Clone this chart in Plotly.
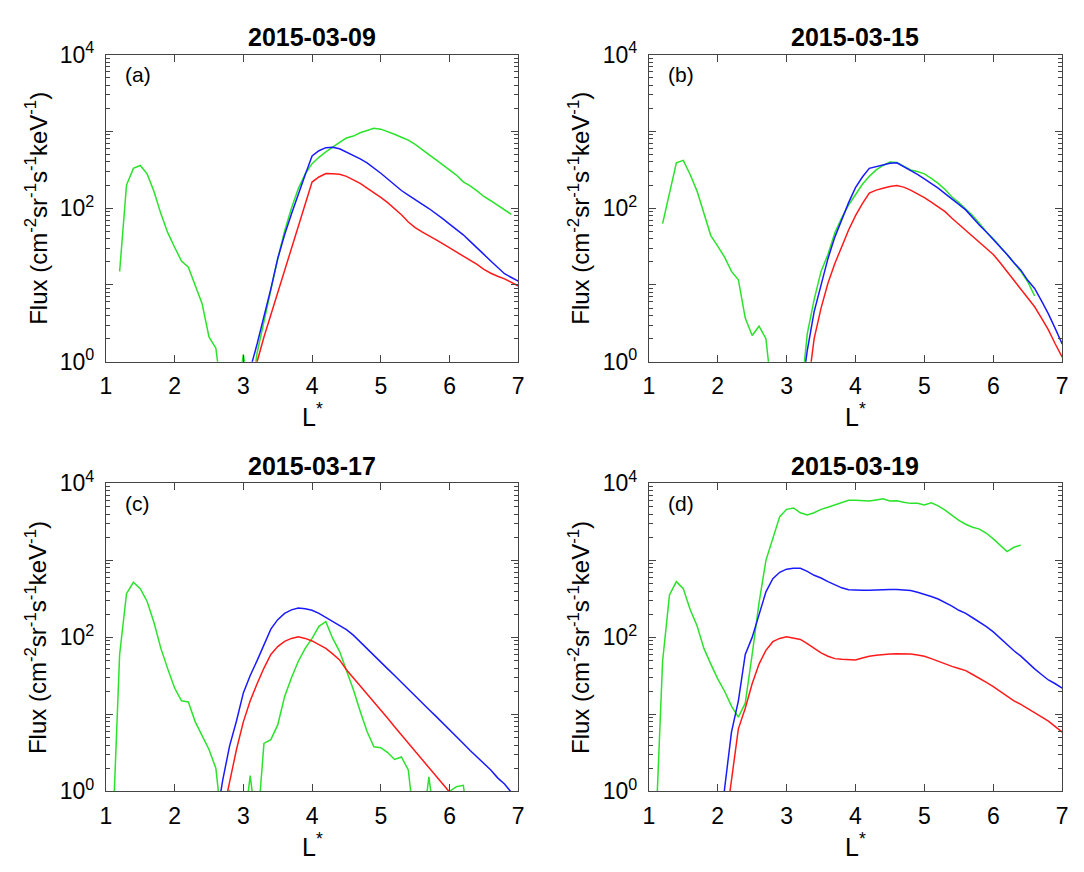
import plotly.graph_objects as go

# ---------------- data ----------------
# Panel (a) 2015-03-09
a_green_L = [1.2,1.3,1.4,1.5,1.6,1.7,1.8,1.9,2.0,2.1,2.2,2.3,2.4,2.5,2.6,2.7,2.8,2.9,3.0,3.1,
             3.2,3.3,3.4,3.5,3.6,3.7,3.8,3.9,4.0,4.1,4.2,4.3,4.4,4.5,4.6,4.7,4.8,4.9,5.0,5.1,
             5.2,5.3,5.4,5.5,5.6,5.7,5.8,5.9,6.0,6.1,6.2,6.3,6.4,6.5,6.6,6.7,6.8,6.9]
a_green = [15,200,330,360,280,165,85,48,31,20.5,17,10,5.7,2.1,1.5,0.3,0.3,0.3,1.25,0.3,
           1.3,3.3,8.5,22,50,100,180,280,380,460,540,630,720,820,870,960,1030,1100,1070,1000,
           920,840,770,680,590,500,430,370,320,270,220,195,168,142,125,110,96,83]
a_blue_L = [3.0,3.1,3.2,3.3,3.4,3.5,3.6,3.7,3.8,3.9,4.0,4.1,4.2,4.3,4.4,4.5,4.6,4.7,4.8,4.9,
            5.0,5.1,5.2,5.3,5.4,5.5,5.6,5.7,5.8,5.9,6.0,6.1,6.2,6.3,6.4,6.5,6.6,6.7,6.8,6.9,7.0]
a_blue = [0.3,0.8,1.7,3.8,8.9,22,45,84,155,272,480,560,615,620,595,540,490,440,390,335,
          285,240,200,170,148,128,113,99,86,73,62,53,45,37,30,25,20.5,17,14,12.5,11.2]
a_red_L = [3.1,3.2,3.3,3.4,3.5,3.6,3.7,3.8,3.9,4.0,4.1,4.2,4.3,4.4,4.5,4.6,4.7,4.8,4.9,5.0,
           5.1,5.2,5.3,5.4,5.5,5.6,5.7,5.8,5.9,6.0,6.1,6.2,6.3,6.4,6.5,6.6,6.7,6.8,6.9,7.0]
a_red = [0.4,1.0,2.1,4.1,8,15.5,30,60,115,219,255,282,280,276,260,235,210,183,160,138,
         118,98,82,66,56,49,44,39,34.5,30.5,27,24,21,18.5,16,14.2,13,12,10.8,9.7]

# Panel (b) 2015-03-15
b_green_L = [1.2,1.4,1.5,1.6,1.7,1.8,1.9,2.0,2.1,2.2,2.3,2.4,2.5,2.6,2.7,2.8,3.2,3.3,3.4,3.5,
             3.6,3.7,3.8,3.9,4.0,4.1,4.2,4.3,4.4,4.5,4.6,4.7,4.8,4.9,5.0,5.1,5.2,5.3,5.4,5.5,
             5.6,5.7,5.8,5.9,6.0,6.1,6.2,6.3,6.4,6.5,6.6]
b_green = [63,390,420,275,167,85,44,32,23,15,11.7,3.7,2.2,2.9,2.0,0.3,0.3,2.3,6.5,15,
           25,48,75,110,150,205,260,315,360,400,395,350,315,300,280,245,210,175,140,118,
           97,80,63,49,40,32,25,19.5,15,11,7.2]
b_blue_L = [3.2,3.3,3.4,3.5,3.6,3.7,3.8,3.9,4.0,4.1,4.2,4.3,4.4,4.5,4.6,4.7,4.8,4.9,5.0,5.1,
            5.2,5.3,5.4,5.5,5.6,5.7,5.8,5.9,6.0,6.1,6.2,6.3,6.4,6.5,6.6,6.7,6.8,6.9,7.0]
b_blue = [0.3,1.4,4.5,10,22,42,72,118,185,255,330,350,365,385,390,350,310,275,240,210,
          182,155,133,112,95,75,60,49,39.5,31.5,25,19.5,15.6,11.5,9,6.2,4.2,2.7,1.7]
b_red_L = [3.3,3.4,3.5,3.6,3.7,3.8,3.9,4.0,4.1,4.2,4.3,4.4,4.5,4.6,4.7,4.8,4.9,5.0,5.1,5.2,
           5.3,5.4,5.5,5.6,5.7,5.8,5.9,6.0,6.1,6.2,6.3,6.4,6.5,6.6,6.7,6.8,6.9,7.0]
b_red = [0.4,2.0,5,10.5,19,32,52,80,115,157,172,182,192,197,188,172,155,137,120,105,
         90,74,62,52,43.5,36,30,25,19.5,15,11.5,9,7,5.2,3.7,2.6,1.7,1.15]

# Panel (c) 2015-03-17
c_green_L = [1.1,1.2,1.3,1.4,1.5,1.6,1.7,1.8,1.9,2.0,2.1,2.2,2.3,2.4,2.5,2.6,2.7,2.8,2.9,3.0,
             3.1,3.2,3.3,3.4,3.5,3.6,3.7,3.8,3.9,4.0,4.1,4.2,4.3,4.4,4.5,4.6,4.7,4.8,4.9,5.0,
             5.1,5.2,5.3,5.4,5.5,5.6,5.7,5.8,5.9,6.0,6.1,6.2,6.3]
c_green = [0.3,60,370,520,430,293,156,72,39,22,15,14.5,8,5.4,3.5,2.0,0.3,1.05,0.3,0.3,
           1.6,0.3,4.2,4.7,7.3,17,30,49,72,97,139,160,97,66,37,21,11,6,3.8,3.7,
           3.2,2.6,2.8,1.9,0.3,0.3,1.55,0.3,0.3,1.0,1.15,1.2,0.3]
c_blue_L = [2.6,2.7,2.8,2.9,3.0,3.1,3.2,3.3,3.4,3.5,3.6,3.7,3.8,3.9,4.0,4.1,4.2,4.3,4.4,4.5,
            4.6,4.7,4.8,4.9,5.0,5.1,5.2,5.3,5.4,5.5,5.6,5.7,5.8,5.9,6.0,6.1,6.2,6.3,6.4,6.5,
            6.6,6.7,6.8,6.9]
c_blue = [0.4,1.4,3.9,8.2,19,32,50,80,128,170,205,228,240,235,225,205,182,163,145,126,
          107,88,72,59,48,39,32,26,21,17.4,14.2,11.6,9.5,7.8,6.3,5.2,4.2,3.4,2.8,2.3,
          1.9,1.5,1.25,0.97]
c_red_L = [2.7,2.8,2.9,3.0,3.1,3.2,3.3,3.4,3.5,3.6,3.7,3.8,3.9,4.0,4.1,4.2,4.3,4.4,4.5,4.6,
           4.7,4.8,4.9,5.0,5.1,5.2,5.3,5.4,5.5,5.6,5.7,5.8,5.9,6.0]
c_red = [0.5,1.3,3.5,8,15,25,40,60,76,89,97,102,97,90,81,72,61,51,38,30,
         23.5,18.5,14.5,11.3,8.9,6.9,5.4,4.2,3.3,2.6,2.0,1.6,1.25,0.98]

# Panel (d) 2015-03-19
d_green_L = [1.1,1.2,1.3,1.4,1.5,1.6,1.7,1.8,1.9,2.0,2.1,2.2,2.3,2.4,2.5,2.6,2.7,2.8,2.9,3.0,
             3.1,3.2,3.3,3.4,3.5,3.6,3.7,3.8,3.9,4.0,4.1,4.2,4.3,4.4,4.5,4.6,4.7,4.8,4.9,5.0,
             5.1,5.2,5.3,5.4,5.5,5.6,5.7,5.8,5.9,6.0,6.1,6.2,6.3,6.4]
d_green = [0.3,49,355,530,430,230,142,72,45,29,20,12.8,9.2,14,60,280,1000,2000,3700,4600,
           4800,4150,3900,4150,4600,4900,5250,5700,6050,6050,6000,5900,6100,6300,5900,5950,5700,5500,5500,5250,
           5600,5100,4500,3900,3300,2950,2700,2550,2250,1900,1580,1300,1480,1580]
d_blue_L = [2.0,2.1,2.2,2.3,2.4,2.5,2.6,2.7,2.8,2.9,3.0,3.1,3.2,3.3,3.4,3.5,3.6,3.7,3.8,3.9,
            4.0,4.1,4.2,4.3,4.4,4.5,4.6,4.7,4.8,4.9,5.0,5.1,5.2,5.3,5.4,5.5,5.6,5.7,5.8,5.9,
            6.0,6.1,6.2,6.3,6.4,6.5,6.6,6.7,6.8,6.9,7.0]
d_blue = [0.2,1.0,5.9,15,60,100,200,390,580,700,770,790,790,720,640,590,530,480,440,415,
          410,410,410,415,420,420,420,415,405,385,365,340,315,285,255,225,205,180,158,138,
          118,98,80,67,57,47,39,33,28,25,22]
d_red_L = [2.1,2.2,2.3,2.4,2.5,2.6,2.7,2.8,2.9,3.0,3.1,3.2,3.3,3.4,3.5,3.6,3.7,3.8,3.9,4.0,
           4.1,4.2,4.3,4.4,4.5,4.6,4.7,4.8,4.9,5.0,5.1,5.2,5.3,5.4,5.5,5.6,5.7,5.8,5.9,6.0,
           6.1,6.2,6.3,6.4,6.5,6.6,6.7,6.8,6.9,7.0]
d_red = [0.3,1.3,6.5,12,25,45,68,88,97,102,99,94,83,72,63,57,53,52,51,51,
         54,57,58.5,60,61,61.5,61.5,61,59,57,53,49,45,42,39.5,37,33,29,26,23,
         20,17,15,13.5,12,10.5,9.3,8.2,7,5.9]

panel_titles = ["2015-03-09", "2015-03-15", "2015-03-17", "2015-03-19"]
panel_labels = ["(a)", "(b)", "(c)", "(d)"]
x_ticks = [1, 2, 3, 4, 5, 6, 7]
y_tickvals = [1, 10, 100, 1000, 10000]
y_ticktext = ["10<sup>0</sup>", "", "10<sup>2</sup>", "", "10<sup>4</sup>"]

panels = [
    (a_green_L, a_green, a_blue_L, a_blue, a_red_L, a_red),
    (b_green_L, b_green, b_blue_L, b_blue, b_red_L, b_red),
    (c_green_L, c_green, c_blue_L, c_blue, c_red_L, c_red),
    (d_green_L, d_green, d_blue_L, d_blue, d_red_L, d_red),
]

# ---------------- layout ----------------
W, H = 1084, 872
GREEN, BLUE, RED = "#2ae32a", "#1a1aff", "#ff1a1a"
FONT = "Liberation Sans, Arial, Helvetica, sans-serif"
AXC = "#444444"

# pixel boxes: (x0, x1, y0_top, y1_bottom)
boxes = [(101, 518, 39, 357), (650, 1068, 39, 357),
         (101, 518, 483, 802), (650, 1068, 483, 802)]

fig = go.Figure()
layout = dict(width=W, height=H, margin=dict(l=0, r=0, t=0, b=0), autosize=False,
              plot_bgcolor="white", paper_bgcolor="white", showlegend=False,
              font=dict(family=FONT, color="black"))
annotations = []

for i, (box, data) in enumerate(zip(boxes, panels)):
    x0, x1, yt, yb = box
    n = "" if i == 0 else str(i + 1)
    xa, ya = "x" + n, "y" + n
    gL, g, bL, b, rL, r = data
    for LL, vv, col in ((gL, g, GREEN), (bL, b, BLUE), (rL, r, RED)):
        fig.add_trace(go.Scatter(x=LL, y=vv, mode="lines", xaxis=xa, yaxis=ya,
                                 line=dict(color=col, width=1.5), hoverinfo="skip"))
    layout["xaxis" + n] = dict(domain=[x0 / W, x1 / W], anchor=ya, range=[1, 7],
                               tickmode="array", tickvals=x_ticks, ticks="inside", ticklen=7,
                               tickcolor=AXC, showline=True, linecolor=AXC, linewidth=1,
                               mirror="ticks", showgrid=False, zeroline=False,
                               ticklabelstandoff=4,
                               tickfont=dict(size=23, family=FONT, color="black"))
    layout["yaxis" + n] = dict(domain=[1 - yb / H, 1 - yt / H], anchor=xa, type="log",
                               range=[0, 4], tickmode="array", tickvals=y_tickvals,
                               ticktext=y_ticktext, ticks="inside", ticklen=7, tickcolor=AXC,
                               minor=dict(ticks="inside", ticklen=4, tickcolor=AXC, dtick="D1",
                                          showgrid=False),
                               showline=True, linecolor=AXC, linewidth=1, mirror="ticks",
                               showgrid=False, zeroline=False, ticklabelstandoff=6,
                               tickfont=dict(size=23, family=FONT, color="black"))
    cx = (x0 + x1) / 2
    annotations.append(dict(text="<b>" + panel_titles[i] + "</b>", x=cx / W, y=1 - (yt - 18) / H,
                            xref="paper", yref="paper", showarrow=False,
                            xanchor="center", yanchor="middle",
                            font=dict(size=25, family=FONT, color="black")))
    annotations.append(dict(text=panel_labels[i], x=(x0 + 17) / W, y=1 - (yt + 21) / H,
                            xref="paper", yref="paper", showarrow=False,
                            xanchor="left", yanchor="middle",
                            font=dict(size=21, family=FONT, color="black")))
    annotations.append(dict(text="L<sup>*</sup>", x=cx / W, y=1 - (yb + 55) / H,
                            xref="paper", yref="paper", showarrow=False,
                            xanchor="center", yanchor="middle",
                            font=dict(size=25, family=FONT, color="black")))
    annotations.append(dict(text="Flux (cm<sup>-2</sup>sr<sup>-1</sup>s<sup>-1</sup>keV<sup>-1</sup>)",
                            x=(x0 - 70) / W, y=1 - ((yt + yb) / 2) / H,
                            xref="paper", yref="paper", showarrow=False, textangle=-90,
                            xanchor="center", yanchor="middle",
                            font=dict(size=24, family=FONT, color="black")))

layout["annotations"] = annotations
fig.update_layout(**layout)
fig.write_html("out.html")
